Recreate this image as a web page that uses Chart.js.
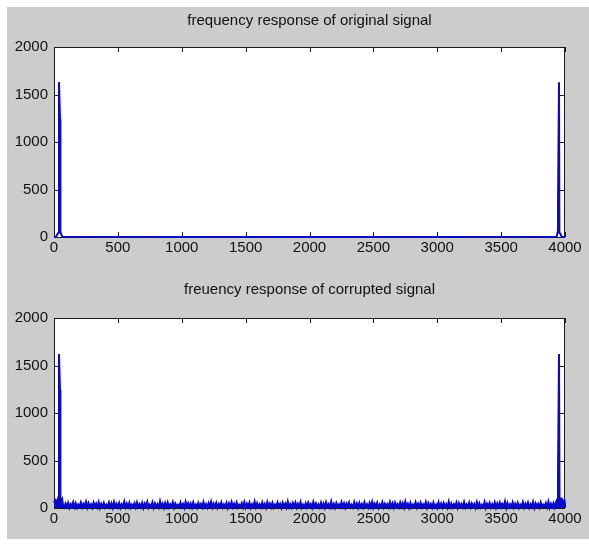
<!DOCTYPE html>
<html>
<head>
<meta charset="utf-8">
<script src="https://cdn.jsdelivr.net/npm/chart.js@4/dist/chart.umd.min.js"></script>
<style>
  html, body { margin: 0; padding: 0; background: #ffffff; }
  #figure { position: absolute; left: 7px; top: 7px; width: 582px; height: 532px; background: #cccccc; }
  #top-plot { position: absolute; left: 0; top: 0; }
  #bottom-plot { position: absolute; left: 0; top: 263px; }
</style>
</head>
<body>
<div id="figure">
  <canvas id="top-plot" width="582" height="263"></canvas>
  <canvas id="bottom-plot" width="582" height="269"></canvas>
</div>
<script>
// frequency bins (x) and magnitudes (y)
const originalFreq = [0, 15, 37, 39, 47, 50, 65, 2000, 3935, 3942, 3945, 3953, 3956, 3975, 4000];
const originalMag = [1, 2, 50, 1630, 1240, 50, 2, 1, 2, 50, 277, 1630, 50, 2, 1];

const corruptedLeftFreq = [0, 10, 20, 30, 37, 39, 47, 50, 56, 64, 72];
const corruptedLeftMag = [55, 85, 70, 95, 120, 1620, 1240, 110, 60, 90, 20];

// noise floor of the corrupted signal, one value every 10 Hz from 80 Hz
const noiseStart = 80;
const noiseStep = 10;
const noiseMag = [
  6, 48, 12, 55, 3, 41, 18, 62, 9, 50, 2, 37, 14, 58, 7, 45, 20, 66, 5, 52,
  11, 39, 4, 57, 16, 47, 8, 61, 1, 43, 13, 54, 6, 35, 19, 59, 10, 49, 3, 64,
  15, 44, 7, 53, 2, 40, 17, 68, 9, 46, 12, 56, 4, 38, 21, 51, 6, 60, 14, 42,
  8, 55, 1, 47, 18, 63, 5, 36, 11, 58, 3, 49, 16, 41, 7, 70, 13, 45, 2, 52,
  10, 57, 6, 39, 15, 61, 4, 48, 19, 34, 8, 56, 12, 43, 3, 65, 17, 50, 9, 46,
  5, 59, 14, 37, 2, 54, 20, 44, 7, 62, 11, 40, 4, 51, 16, 67, 8, 47, 13, 55,
  3, 42, 18, 60, 6, 38, 10, 53, 1, 49, 15, 64, 9, 45, 12, 57, 5, 35, 19, 52,
  7, 61, 4, 46, 14, 56, 2, 41, 17, 69, 8, 50, 11, 39, 6, 58, 13, 44, 3, 63,
  16, 48, 9, 54, 5, 37, 20, 60, 12, 43, 1, 55, 15, 47, 7, 66, 10, 40, 4, 53,
  18, 58, 6, 45, 13, 62, 3, 36, 11, 51, 8, 57, 17, 42, 2, 64, 14, 49, 9, 38,
  5, 56, 12, 47, 1, 59, 16, 41, 7, 68, 10, 44, 4, 53, 19, 39, 8, 61, 13, 50,
  3, 46, 15, 57, 9, 35, 6, 63, 18, 48, 2, 54, 11, 43, 7, 60, 14, 40, 4, 52,
  10, 65, 5, 45, 17, 55, 1, 38, 12, 59, 8, 47, 20, 42, 6, 62, 13, 50, 3, 56,
  15, 41, 7, 58, 11, 49, 4, 67, 16, 44, 2, 53, 9, 37, 18, 61, 6, 46, 12, 55,
  8, 39, 14, 63, 3, 51, 19, 45, 5, 57, 10, 36, 1, 60, 13, 48, 7, 54, 17, 42,
  4, 66, 11, 47, 6, 40, 15, 58, 2, 52, 18, 44, 9, 62, 5, 38, 12, 56, 8, 49,
  16, 43, 3, 61, 10, 50, 7, 35, 14, 64, 1, 46, 19, 55, 6, 41, 11, 59, 4, 48,
  13, 57, 9, 42, 17, 69, 2, 51, 8, 39, 15, 60, 5, 45, 12, 54, 3, 37, 18, 63,
  7, 47, 14, 56, 4, 40, 10, 62, 1, 49, 16, 44, 6, 58, 11, 36, 20, 53, 8, 65,
  3, 45, 12, 52, 6
];

const corruptedRightFreq = [3930, 3938, 3945, 3953, 3957, 3965, 3975, 3985, 3995, 4000];
const corruptedRightMag = [60, 90, 277, 1620, 120, 70, 95, 55, 80, 40];

const xTicks = [0, 500, 1000, 1500, 2000, 2500, 3000, 3500, 4000];
const yTicks = [0, 500, 1000, 1500, 2000];

const LINE_COLOR = "#0a0ac8";
const AXIS_COLOR = "#1a1a1a";
const TEXT_COLOR = "#111111";
const FONT_FAMILY = "'Liberation Sans', Arial, sans-serif";

function toPoints(xs, ys) {
  return xs.map((x, i) => ({ x: x, y: ys[i] }));
}

const originalPoints = toPoints(originalFreq, originalMag);
const corruptedPoints = toPoints(corruptedLeftFreq, corruptedLeftMag)
  .concat(noiseMag.map((m, i) => ({ x: noiseStart + i * noiseStep, y: m })))
  .concat(toPoints(corruptedRightFreq, corruptedRightMag));

// white axes area, box and inward tick marks like matlab
const matlabAxes = {
  id: "matlabAxes",
  beforeDraw(chart) {
    const a = chart.chartArea;
    const ctx = chart.ctx;
    ctx.save();
    ctx.fillStyle = "#ffffff";
    ctx.fillRect(a.left, a.top, a.right - a.left, a.bottom - a.top);
    ctx.restore();
  },
  beforeDatasetsDraw(chart) {
    const a = chart.chartArea;
    const ctx = chart.ctx;
    const len = 5;
    ctx.save();
    ctx.strokeStyle = AXIS_COLOR;
    ctx.lineWidth = 1;
    ctx.strokeRect(Math.round(a.left) + 0.5, Math.round(a.top) + 0.5,
      Math.round(a.right - a.left) - 1, Math.round(a.bottom - a.top));
    ctx.beginPath();
    xTicks.forEach((t) => {
      const px = Math.round(chart.scales.x.getPixelForValue(t)) + 0.5;
      ctx.moveTo(px, a.top);
      ctx.lineTo(px, a.top + len);
      ctx.moveTo(px, a.bottom);
      ctx.lineTo(px, a.bottom - len);
    });
    yTicks.forEach((t) => {
      const py = Math.round(chart.scales.y.getPixelForValue(t)) + 0.5;
      ctx.moveTo(a.left, py);
      ctx.lineTo(a.left + len, py);
      ctx.moveTo(a.right, py);
      ctx.lineTo(a.right - len, py);
    });
    ctx.stroke();
    ctx.restore();
  },
};

function createPlot(canvasId, title, points, titlePadding, xAxisHeight, fillBand) {
  const ctx = document.getElementById(canvasId).getContext("2d");
  return new Chart(ctx, {
    type: "line",
    data: {
      datasets: [
        {
          data: points,
          borderColor: LINE_COLOR,
          backgroundColor: LINE_COLOR,
          borderWidth: 2,
          pointRadius: 0,
          tension: 0,
          fill: fillBand ? "origin" : false,
          clip: false,
        },
      ],
    },
    options: {
      responsive: false,
      animation: false,
      devicePixelRatio: 1,
      layout: { padding: { left: 0, right: 24, top: 0, bottom: 0 } },
      plugins: {
        legend: { display: false },
        tooltip: { enabled: false },
        filler: { propagate: false },
        title: {
          display: true,
          text: title,
          fullSize: false,
          color: TEXT_COLOR,
          font: { family: FONT_FAMILY, size: 15, weight: "normal", lineHeight: 1.2 },
          padding: titlePadding,
        },
      },
      scales: {
        x: {
          type: "linear",
          min: 0,
          max: 4000,
          afterBuildTicks: (scale) => {
            scale.ticks = xTicks.map((v) => ({ value: v }));
          },
          afterFit: (scale) => {
            scale.height = xAxisHeight;
          },
          grid: { display: false, drawTicks: false },
          border: { display: false },
          ticks: {
            autoSkip: false,
            maxRotation: 0,
            padding: 2,
            color: TEXT_COLOR,
            font: { family: FONT_FAMILY, size: 15 },
            callback: (value) => String(value),
          },
        },
        y: {
          type: "linear",
          min: 0,
          max: 2000,
          afterBuildTicks: (scale) => {
            scale.ticks = yTicks.map((v) => ({ value: v }));
          },
          afterFit: (scale) => {
            scale.width = 47;
          },
          grid: { display: false, drawTicks: false },
          border: { display: false },
          ticks: {
            padding: 6,
            color: TEXT_COLOR,
            font: { family: FONT_FAMILY, size: 15 },
            callback: (value) => String(value),
          },
        },
      },
    },
    plugins: [matlabAxes],
  });
}

createPlot("top-plot", "frequency response of original signal", originalPoints,
  { top: 4.4, bottom: 17.6 }, 33, false);
createPlot("bottom-plot", "freuency response of corrupted signal", corruptedPoints,
  { top: 10.4, bottom: 19.6 }, 31, true);
</script>
</body>
</html>
